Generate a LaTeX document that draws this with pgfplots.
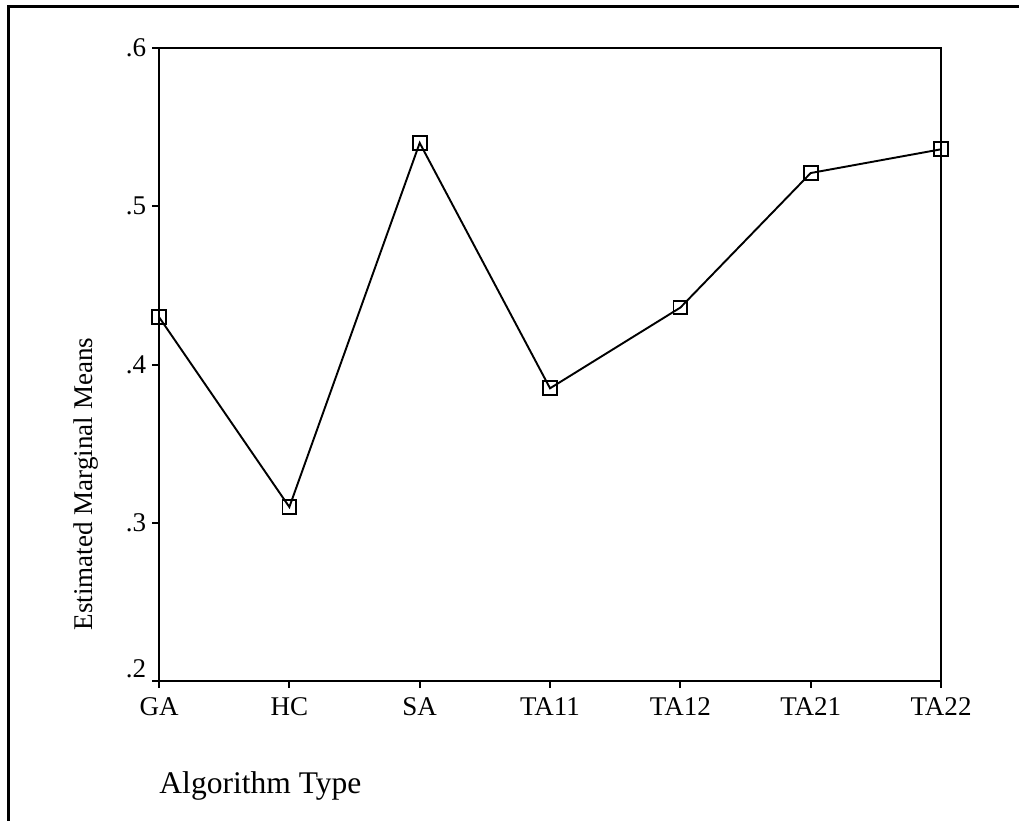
\documentclass[border=0pt]{standalone}
\usepackage{fontspec}
\setmainfont{Liberation Serif}
\usepackage{pgfplots}
\pgfplotsset{compat=1.18}

\begin{document}
\begin{tikzpicture}
% page size and outer frame (axis box sits at the origin)
\path[use as bounding box] (-70.6pt,-61.7pt) rectangle (381.8pt,302.4pt);
\draw[line width=1.35pt] (-66.9pt,-70pt) -- (-66.9pt,299.5pt) -- (390pt,299.5pt);

\begin{axis}[
  scale only axis,
  width=347.2pt, height=281.1pt,
  at={(0,0)}, anchor=south west,
  xmin=0, xmax=6, ymin=0.2, ymax=0.6,
  axis line style={line width=1.15pt},
  xtick={0,1,2,3,4,5,6},
  xticklabels={GA,HC,SA,TA11,TA12,TA21,TA22},
  ytick={0.2,0.3,0.4,0.5,0.6},
  yticklabels={\raisebox{1.6pt}[0pt][0pt]{.2},.3,.4,.5,.6},
  tick pos=left, tick align=outside,
  major tick length=3pt,
  tick style={line width=0.9pt,black},
  xticklabel style={anchor=north,inner sep=0pt,yshift=-4.3pt},
  yticklabel style={anchor=east,inner sep=0pt,xshift=-2.5pt},
  tick label style={font=\fontsize{12}{14}\selectfont},
  clip=false,
]
\addplot[black,line width=0.85pt,mark=square,
  mark options={line width=0.85pt,solid,fill=white},mark size=3.05pt] coordinates {
  (0,0.430) (1,0.310) (2,0.540) (3,0.385) (4,0.436) (5,0.521) (6,0.536)
};
\end{axis}

\node[anchor=base west,inner sep=0pt,font=\fontsize{14}{16}\selectfont]
  at (0pt,-49.7pt) {Algorithm Type};
\node[rotate=90,anchor=base,inner sep=0pt,font=\fontsize{12}{14}\selectfont]
  at (-29.7pt,87.5pt) {Estimated Marginal Means};
\end{tikzpicture}
\end{document}
